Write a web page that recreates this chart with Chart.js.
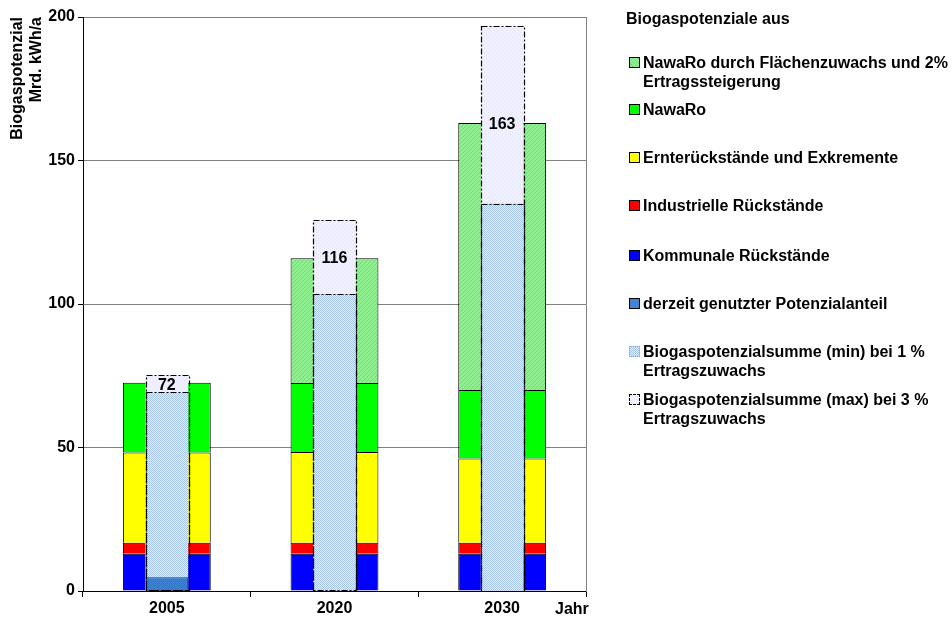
<!DOCTYPE html>
<html>
<head>
<meta charset="utf-8">
<script src="https://cdn.jsdelivr.net/npm/chart.js@4/dist/chart.umd.min.js"></script>
<style>
  body { margin: 0; background: #fff; font-family: "Liberation Sans", Arial, sans-serif; }
  #wrap { position: relative; width: 952px; height: 626px; }
  #legend { position: absolute; left: 0; top: 0; font-weight: bold; font-size: 16px; color: #000; }
  .lg-title { position: absolute; left: 626px; top: 9px; white-space: nowrap; line-height: 19px; }
  .lg-item { position: absolute; left: 629px; line-height: 19px; }
  .lg-box { position: absolute; left: 0; top: 4px; width: 9px; height: 9px; border: 1px solid #000; }
  .lg-text { margin-left: 14px; white-space: nowrap; }
  #jahr { position: absolute; left: 555px; top: 599px; font-weight: bold; font-size: 16px; line-height: 19px; }
</style>
</head>
<body>
<div id="wrap">
  <canvas id="chart" width="952" height="626"></canvas>
  <div id="legend"></div>
  <div id="jahr">Jahr</div>
</div>
<script>
// Werte aus dem Diagramm (Mrd. kWh/a)
const years = ['2005', '2020', '2030'];
const kommunal = [13, 13, 13];
const industriell = [3.8, 3.8, 3.8];
const ernte = [31.5, 31.6, 29.4];
const nawaro = [24.3, 24.1, 23.8];
const nawaroZuwachs = [0, 43.4, 93.1];
const derzeitGenutzt = [4.8, null, null];
const summeMin = [69.2, 103.4, 135];
const summeMax = [75.2, 129.3, 197];
const summeLabels = [72, 116, 163];
const yTicks = [0, 50, 100, 150, 200];

const FONT = '"Liberation Sans", Arial, sans-serif';

// small canvas patterns for the hatched fills
function makePattern(size, draw) {
  const c = document.createElement('canvas');
  c.width = size; c.height = size;
  draw(c.getContext('2d'));
  return document.getElementById('chart').getContext('2d').createPattern(c, 'repeat');
}

const greenHatch = makePattern(4, g => {
  g.fillStyle = '#8ff08f'; g.fillRect(0, 0, 4, 4);
  g.fillStyle = '#70de70';
  for (let i = 0; i < 4; i++) g.fillRect(i, 3 - i, 1, 1);
});
const minChecker = makePattern(2, g => {
  g.fillStyle = '#e6eefa'; g.fillRect(0, 0, 2, 2);
  g.fillStyle = '#a6c4ec'; g.fillRect(0, 0, 1, 1); g.fillRect(1, 1, 1, 1);
});
const maxDots = makePattern(4, g => {
  g.fillStyle = '#f0f0ff'; g.fillRect(0, 0, 4, 4);
  g.fillStyle = '#e2e2f6'; g.fillRect(0, 0, 1, 1); g.fillRect(2, 2, 1, 1);
});
const derzeitFill = makePattern(2, g => {
  g.fillStyle = '#3f86d6'; g.fillRect(0, 0, 2, 2);
  g.fillStyle = '#3274c4'; g.fillRect(0, 0, 1, 1); g.fillRect(1, 1, 1, 1);
});

const WIDE = 0.524, MID = 0.254;

const wide = (label, data, color) => ({
  label, data, stack: 'wide', backgroundColor: color, borderColor: '#000', borderWidth: 1,
  barPercentage: WIDE, categoryPercentage: 1, grouped: false
});

const datasets = [
  { label: 'derzeit genutzter Potenzialanteil', data: derzeitGenutzt, stack: 'm1',
    backgroundColor: derzeitFill, borderColor: '#1c3f70', borderWidth: 1,
    barPercentage: MID, categoryPercentage: 1, grouped: false },
  { label: 'Biogaspotenzialsumme (min) bei 1 % Ertragszuwachs', data: summeMin, stack: 'm2',
    backgroundColor: minChecker, borderWidth: 0,
    barPercentage: MID, categoryPercentage: 1, grouped: false },
  { label: 'Biogaspotenzialsumme (max) bei 3 % Ertragszuwachs', data: summeMax, stack: 'm3',
    backgroundColor: maxDots, borderWidth: 0,
    barPercentage: MID, categoryPercentage: 1, grouped: false },
  wide('Kommunale Rückstände', kommunal, '#0000ff'),
  wide('Industrielle Rückstände', industriell, '#ff0000'),
  wide('Ernterückstände und Exkremente', ernte, '#ffff00'),
  wide('NawaRo', nawaro, '#00ff00'),
  wide('NawaRo durch Flächenzuwachs und 2% Ertragssteigerung', nawaroZuwachs, greenHatch)
];

// dashed outlines of the min/max sums and the value labels
const overlayPlugin = {
  id: 'overlay',
  afterDatasetsDraw(chart) {
    const ctx = chart.ctx;
    const yScale = chart.scales.y;
    ctx.save();
    ctx.strokeStyle = '#000';
    ctx.lineWidth = 1.2;
    ctx.setLineDash([6, 2, 2, 2]);
    [2, 1].forEach(i => {
      chart.getDatasetMeta(i).data.forEach(bar => {
        const p = bar.getProps(['x', 'y', 'base', 'width'], true);
        ctx.strokeRect(Math.round(p.x - p.width / 2) + 0.5, Math.round(p.y) + 0.5,
          Math.round(p.width), Math.round(p.base - p.y));
      });
    });
    ctx.setLineDash([]);
    ctx.fillStyle = '#000';
    ctx.font = 'bold 16px ' + FONT;
    ctx.textAlign = 'center';
    ctx.textBaseline = 'middle';
    chart.getDatasetMeta(1).data.forEach((bar, i) => {
      ctx.fillText(String(summeLabels[i]), bar.x, yScale.getPixelForValue(summeLabels[i]) + 1);
    });
    ctx.restore();
  }
};

new Chart(document.getElementById('chart'), {
  type: 'bar',
  data: { labels: years, datasets },
  plugins: [overlayPlugin],
  options: {
    responsive: false,
    animation: false,
    layout: { padding: { left: 0, right: 366, top: 17, bottom: 0 } },
    plugins: { legend: { display: false }, tooltip: { enabled: false } },
    scales: {
      x: {
        type: 'category',
        offset: true,
        grid: { offset: true, drawOnChartArea: false, tickLength: 6, color: '#000' },
        border: { color: '#000' },
        ticks: { color: '#000', font: { family: FONT, size: 16, weight: 'bold' }, padding: 2 },
        afterFit: s => { s.height = 35; }
      },
      y: {
        stacked: true,
        min: 0, max: 200,
        afterBuildTicks: s => { s.ticks = yTicks.map(v => ({ value: v })); },
        grid: { color: '#808080', tickColor: '#000', tickLength: 5 },
        border: { color: '#000' },
        ticks: { color: '#000', font: { family: FONT, size: 16, weight: 'bold' }, padding: 3 },
        title: {
          display: true, align: 'end',
          text: ['Biogaspotenzial', 'Mrd. kWh/a'],
          color: '#000', font: { family: FONT, size: 16, weight: 'bold' },
          padding: { top: 8, bottom: 0 }
        },
        afterFit: s => { s.width = 83; }
      },
      y2: {
        position: 'right',
        min: 0, max: 200,
        grid: { drawOnChartArea: false, drawTicks: false },
        border: { color: '#808080' },
        ticks: { display: false },
        afterFit: s => { s.width = 0; }
      }
    }
  }
});

// legend on the right
const legendItems = [
  { text: ['NawaRo durch Flächenzuwachs und 2%', 'Ertragssteigerung'], bg: 'repeating-linear-gradient(45deg,#8ff08f 0 2px,#70de70 2px 3px)', top: 53 },
  { text: ['NawaRo'], bg: '#00ff00', top: 100 },
  { text: ['Ernterückstände und Exkremente'], bg: '#ffff00', top: 148 },
  { text: ['Industrielle Rückstände'], bg: '#ff0000', top: 196 },
  { text: ['Kommunale Rückstände'], bg: '#0000ff', top: 246 },
  { text: ['derzeit genutzter Potenzialanteil'], bg: '#3f86d6', top: 294 },
  { text: ['Biogaspotenzialsumme (min) bei 1 %', 'Ertragszuwachs'], bg: 'repeating-conic-gradient(#a6c4ec 0 25%,#e6eefa 0 50%) 0 0/2px 2px', top: 342, noBorder: true },
  { text: ['Biogaspotenzialsumme (max) bei 3 %', 'Ertragszuwachs'], bg: '#f0f0ff', top: 390, dashed: true }
];

const legend = document.getElementById('legend');
legend.innerHTML = '<div class="lg-title">Biogaspotenziale aus</div>' +
  legendItems.map(it => {
    let border = '';
    if (it.noBorder) border = 'border:1px dotted #9ab;';
    if (it.dashed) border = 'border:1px dashed #000;';
    return `<div class="lg-item" style="top:${it.top}px">
      <div class="lg-box" style="background:${it.bg};${border}"></div>
      <div class="lg-text">${it.text.join('<br>')}</div>
    </div>`;
  }).join('');
</script>
</body>
</html>
